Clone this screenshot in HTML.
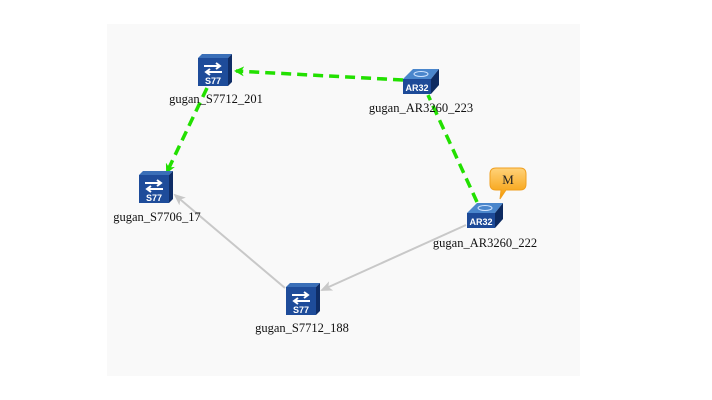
<!DOCTYPE html>
<html><head><meta charset="utf-8">
<style>
html,body{margin:0;padding:0;background:#fff;}
svg{display:block;}
text{font-family:"Liberation Serif",serif;font-size:12.5px;fill:#111;}
</style></head>
<body>
<svg width="712" height="400" viewBox="0 0 712 400" xmlns="http://www.w3.org/2000/svg">
<defs>
<linearGradient id="bub" x1="0" y1="0" x2="0" y2="1">
<stop offset="0" stop-color="#ffd27a"/><stop offset="1" stop-color="#f59a00"/>
</linearGradient>
<marker id="ag" markerWidth="10" markerHeight="10" refX="8" refY="5" orient="auto" markerUnits="userSpaceOnUse">
<path d="M0,0 L10,5 L0,10 L3,5 Z" fill="#22e000"/>
</marker>
<marker id="agr" markerWidth="12" markerHeight="10" refX="10" refY="5" orient="auto" markerUnits="userSpaceOnUse">
<path d="M0,0 L12,5 L0,10 L3,5 Z" fill="#c8c8c8"/>
</marker>
<g id="sw">
<polygon points="0,4 4,0 34,0 30,4" fill="#3a6fb8"/>
<polygon points="30,4 34,0 34,28 30,32" fill="#0f2d66"/>
<rect x="0" y="4" width="30" height="28" fill="#1e4c9a"/>
<path d="M6,12 H22 M18,9 L22,12 L18,15" stroke="#fff" stroke-width="2" fill="none"/>
<path d="M24,18 H8 M12,15 L8,18 L12,21" stroke="#fff" stroke-width="2" fill="none"/>
<text x="15" y="30" text-anchor="middle" style="font-family:'Liberation Sans',sans-serif;font-size:9px;font-weight:bold;fill:#fff">S77</text>
</g>
<g id="rt">
<polygon points="0,10 10,0 36,0 28,10" fill="#4a86cc"/>
<ellipse cx="18" cy="5" rx="7" ry="2.5" fill="none" stroke="#cfe3ff" stroke-width="1"/>
<polygon points="28,10 36,0 36,16 28,25" fill="#0d2a60"/>
<rect x="0" y="10" width="28" height="15" fill="#1d4a98"/>
<text x="14" y="22" text-anchor="middle" style="font-family:'Liberation Sans',sans-serif;font-size:9px;font-weight:bold;fill:#fff">AR32</text>
</g>
</defs>
<rect x="107" y="24" width="473" height="352" fill="#f9f9f9"/>

<line x1="403" y1="80" x2="236" y2="71" stroke="#22e000" stroke-width="3.5" stroke-dasharray="10,6" marker-end="url(#ag)"/>
<line x1="207" y1="88" x2="167" y2="172" stroke="#22e000" stroke-width="3.5" stroke-dasharray="10,6" marker-end="url(#ag)"/>
<line x1="477" y1="202" x2="428" y2="95" stroke="#22e000" stroke-width="3.5" stroke-dasharray="10,6"/>
<line x1="466" y1="225" x2="322" y2="290" stroke="#c8c8c8" stroke-width="2" marker-end="url(#agr)"/>
<line x1="285" y1="288" x2="175" y2="195" stroke="#c8c8c8" stroke-width="2" marker-end="url(#agr)"/>

<use href="#sw" x="198" y="54"/>
<use href="#sw" x="139" y="171"/>
<use href="#sw" x="286" y="283"/>
<use href="#rt" x="403" y="69"/>
<use href="#rt" x="467" y="203"/>

<path d="M496,168 H520 Q526,168 526,174 V184 Q526,190 520,190 H506 L500,199 L501,190 H496 Q490,190 490,184 V174 Q490,168 496,168 Z" fill="url(#bub)" stroke="#f0a020" stroke-width="1"/>
<text x="508" y="184" text-anchor="middle" style="font-size:13px;fill:#222">M</text>

<text x="216" y="103" text-anchor="middle">gugan_S7712_201</text>
<text x="421" y="112" text-anchor="middle">gugan_AR3260_223</text>
<text x="157" y="221" text-anchor="middle">gugan_S7706_17</text>
<text x="485" y="247" text-anchor="middle">gugan_AR3260_222</text>
<text x="302" y="332" text-anchor="middle">gugan_S7712_188</text>
</svg>
</body></html>
